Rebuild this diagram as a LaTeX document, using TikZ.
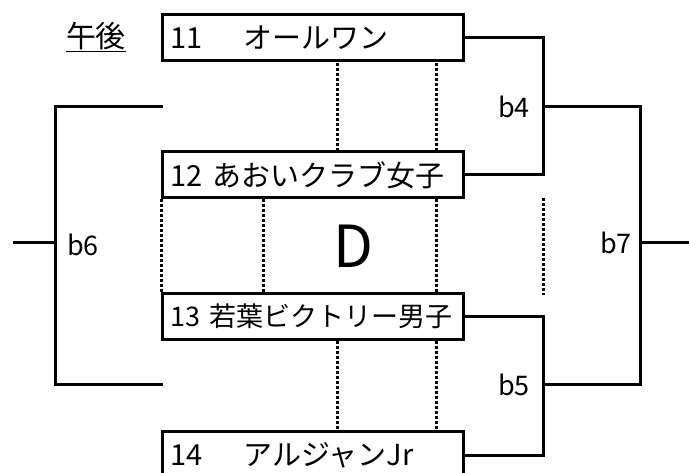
\documentclass[tikz,border=0pt]{standalone}
\usepackage{fontspec}
\setmainfont{Noto Sans CJK JP}
\usetikzlibrary{calc}
\begin{document}
\begin{tikzpicture}[x=1pt,y=-1pt,
  team/.style={draw, line width=3pt, minimum height=46pt, text width=285pt,
    inner xsep=8pt, inner ysep=0pt, align=left, anchor=west,
    font=\fontsize{29}{32}\selectfont},
  teamsm/.style={team, font=\fontsize{27}{30}\selectfont},
  bline/.style={line width=3pt},
  dotline/.style={line width=3pt, dash pattern=on 3pt off 2pt},
  blabel/.style={font=\fontsize{27}{30}\selectfont, inner sep=0pt}]
\useasboundingbox (0,0) rectangle (689,473);
\node[font=\fontsize{30}{33}\selectfont, inner sep=0pt] (gogo) at (96,37) {\underline{午後}};
\node[team] (n11) at (161,37.5) {11\hspace{12pt}　オールワン};
\node[team] (n12) at (161,175) {12 あおいクラブ女子};
\node[teamsm] (n13) at (161,316.5) {13 若葉ビクトリー男子};
\node[team] (n14) at (161,455) {14\hspace{12pt}　アルジャンJr};
\node[font=\fontsize{58}{64}\selectfont, inner sep=0pt] (dd) at (353,246) {D};
% labels
\node[blabel] (b4) at (514,107) {b4};
\node[blabel] (b5) at (514,385) {b5};
\node[blabel] (b6) at (83,245) {b6};
\node[blabel] (b7) at (616,243) {b7};
% junctions
\coordinate (j4) at (543,107);
\coordinate (j5) at (543,385);
\coordinate (j7) at (640,243);
\coordinate (o7) at (692,243);
\coordinate (l6t) at (163,107);
\coordinate (l6b) at (163,385);
\coordinate (j6) at (55,243);
\coordinate (o6) at (13,243);
\draw[bline] (n11.east) -| (j4) |- (n12.east);
\draw[bline] (n13.east) -| (j5) |- (n14.east);
\draw[bline] (j4) -| (j7) |- (j5);
\draw[bline] (j7) -- (o7);
\draw[bline] (l6t) -| (j6) |- (l6b);
\draw[bline] (j6) -- (o6);
% dotted guides
\draw[dotline] (337,63) -- (337,152);
\draw[dotline] (436,63) -- (436,152);
\draw[dotline] (161,199) -- (161,294);
\draw[dotline] (263,199) -- (263,294);
\draw[dotline] (436,199) -- (436,294);
\draw[dotline] (543,198) -- (543,295);
\draw[dotline] (337,341) -- (337,431);
\draw[dotline] (436,341) -- (436,431);
\end{tikzpicture}
\end{document}
